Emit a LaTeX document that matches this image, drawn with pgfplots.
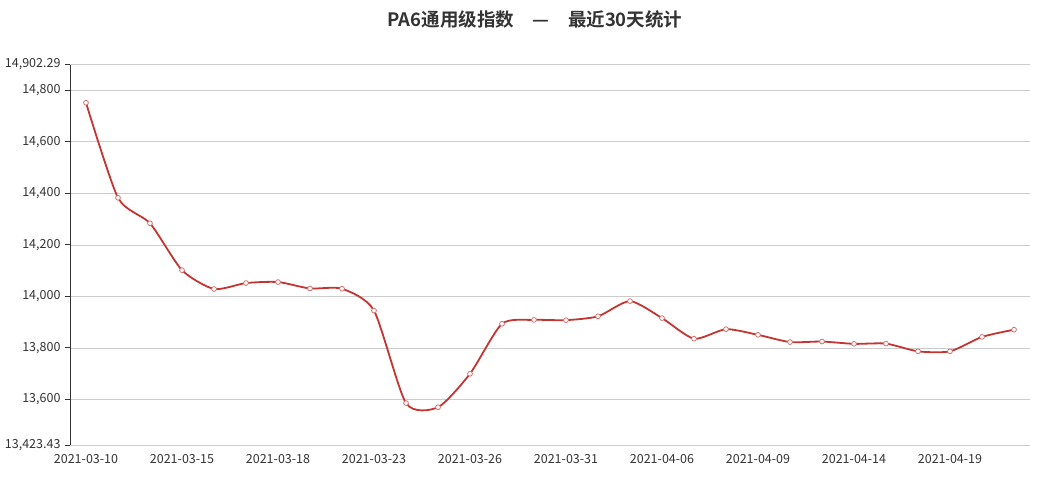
\documentclass[border=0pt]{standalone}
\usepackage{pgfplots}
\pgfplotsset{compat=1.18}
\usepackage{fontspec}
\setmainfont{Noto Sans CJK SC}
\newfontfamily\titlefont{Noto Sans CJK SC Bold}
\definecolor{ered}{HTML}{C23531}
\definecolor{txt}{HTML}{333333}
\definecolor{gridc}{HTML}{CCCCCC}
\begin{document}
\begin{tikzpicture}
\path[use as bounding box] (0,0) rectangle (1040pt,480pt);
\node[text=txt,font=\titlefont\fontsize{18.5}{22}\selectfont] at (535pt,461pt) {PA6通用级指数\quad—\quad 最近30天统计};
\begin{axis}[
  at={(70pt,35pt)}, anchor=south west,
  scale only axis, width=960pt, height=381pt,
  xmin=-0.5, xmax=29.5,
  ymin=13423.43, ymax=14902.29,
  axis x line*=bottom, axis y line*=left,
  axis line style={-, draw=txt, line width=1pt},
  xtick={0,3,...,27},
  xticklabels={2021-03-10,2021-03-15,2021-03-18,2021-03-23,2021-03-26,2021-03-31,2021-04-06,2021-04-09,2021-04-14,2021-04-19},
  x tick style={draw=none},
  extra x ticks={-0.5,1.5,4.5,7.5,10.5,13.5,16.5,19.5,22.5,25.5,28.5},
  extra x tick labels={},
  extra x tick style={tick style={draw=txt, line width=1pt}, major tick length=5pt},
  ytick={13600,13800,14000,14200,14400,14600,14800},
  extra y ticks={13423.43,14902.29},
  extra y tick labels={13{,}423.43,14{,}902.29},
  extra y tick style={grid=major},
  ymajorgrids,
  grid style={draw=gridc, line width=0.8pt},
  y tick style={draw=txt, line width=1pt},
  major tick length=5pt,
  tick align=outside,
  /pgf/number format/assume math mode=true,
  /pgf/number format/1000 sep={,},
  scaled y ticks=false,
  ticklabel style={font=\fontsize{12.5}{14}\selectfont, text=txt},
  xticklabel style={yshift=-1pt},
  yticklabel style={xshift=-1pt},
  clip=false,
]
\addplot[ered, line width=1.8pt, smooth, tension=0.4,
  mark=*, mark size=2.4pt, mark options={fill=white, draw=ered!70, line width=0.8pt}]
coordinates {
(0,14752) (1,14383) (2,14284) (3,14102) (4,14029) (5,14052) (6,14056) (7,14031) (8,14030) (9,13945)
(10,13586) (11,13570) (12,13700) (13,13894) (14,13909) (15,13908) (16,13923) (17,13982) (18,13916) (19,13836)
(20,13873) (21,13851) (22,13823) (23,13825) (24,13816) (25,13817) (26,13787) (27,13787) (28,13843) (29,13871)
};
\end{axis}
\end{tikzpicture}
\end{document}
